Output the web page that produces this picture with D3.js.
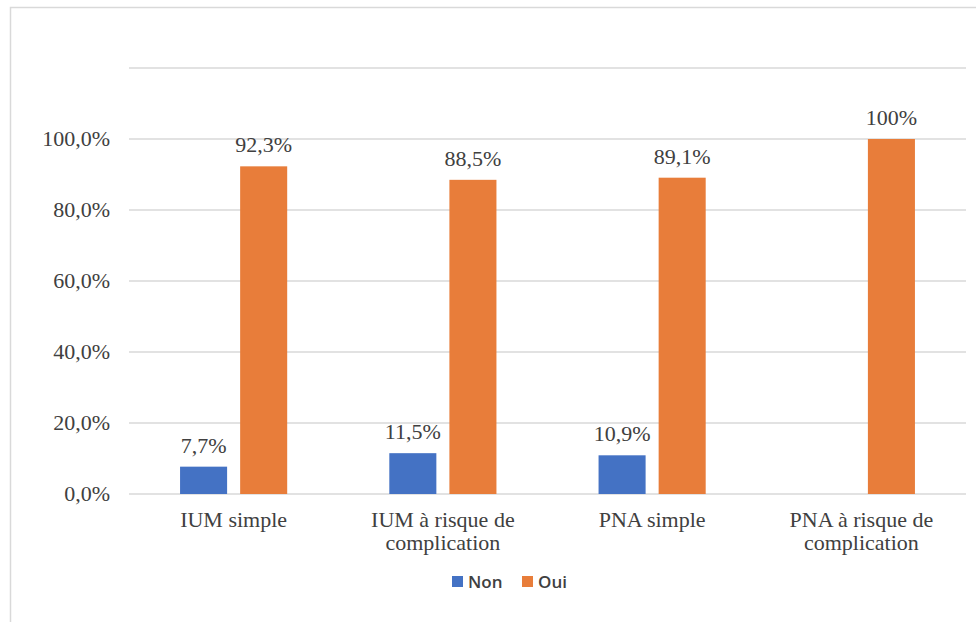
<!DOCTYPE html>
<html>
<head>
<meta charset="utf-8">
<script src="https://cdn.jsdelivr.net/npm/d3@7"></script>
<style>
  html, body { margin: 0; padding: 0; background: #fff; }
  svg { display: block; }
</style>
</head>
<body>
<svg id="chart" width="976" height="622"></svg>
<script>
const categories = [
  ["IUM simple"],
  ["IUM à risque de", "complication"],
  ["PNA simple"],
  ["PNA à risque de", "complication"]
];
const seriesNames = ["Non", "Oui"];
const nonValues = [7.7, 11.5, 10.9, null];
const ouiValues = [92.3, 88.5, 89.1, 100];
const nonLabels = ["7,7%", "11,5%", "10,9%", ""];
const ouiLabels = ["92,3%", "88,5%", "89,1%", "100%"];
const gridTicks = [0, 20, 40, 60, 80, 100, 120];
const tickLabels = ["0,0%", "20,0%", "40,0%", "60,0%", "80,0%", "100,0%"];
const colors = ["#4472C4", "#E87D3A"];

(function () {
const svg = d3.select("#chart");
const textColor = "#404040";
const serif = "'Liberation Serif', 'Times New Roman', serif";
const fs = 22;

// frame
svg.append("path")
  .attr("d", "M10.5,622 L10.5,7.5 L976,7.5")
  .attr("fill", "none").attr("stroke", "#D9D9D9").attr("stroke-width", 1.5);

const plotLeft = 129, plotRight = 966, plotTop = 68, plotBottom = 494;
const y = d3.scaleLinear().domain([0, 120]).range([plotBottom, plotTop]);
const catIdx = categories.map((c, i) => i);
const x0 = d3.scaleBand().domain(catIdx).range([plotLeft, plotRight]).paddingInner(0.488).paddingOuter(0.244);
const x1 = d3.scaleBand().domain(seriesNames).range([0, x0.bandwidth()]).paddingInner(0.217);

// gridlines
svg.append("g").selectAll("line").data(gridTicks).join("line")
  .attr("x1", plotLeft).attr("x2", plotRight)
  .attr("y1", d => y(d)).attr("y2", d => y(d))
  .attr("stroke", "#D9D9D9").attr("stroke-width", 1.5);

// y tick labels
svg.append("g").selectAll("text").data(tickLabels).join("text")
  .attr("x", 110).attr("y", (d, i) => y(gridTicks[i]) + 7)
  .attr("text-anchor", "end")
  .attr("font-family", serif).attr("font-size", fs).attr("fill", textColor)
  .text(d => d);

// bars
const seriesData = [nonValues, ouiValues];
const seriesLabels = [nonLabels, ouiLabels];
seriesNames.forEach((s, si) => {
  const g = svg.append("g");
  const data = catIdx.map(i => ({ i, v: seriesData[si][i], l: seriesLabels[si][i] })).filter(d => d.v != null);
  g.selectAll("rect").data(data).join("rect")
    .attr("x", d => x0(d.i) + x1(s))
    .attr("width", x1.bandwidth())
    .attr("y", d => y(d.v))
    .attr("height", d => y(0) - y(d.v))
    .attr("fill", colors[si]);
  g.selectAll("text").data(data).join("text")
    .attr("x", d => x0(d.i) + x1(s) + x1.bandwidth() / 2)
    .attr("y", d => y(d.v) - 14)
    .attr("text-anchor", "middle")
    .attr("font-family", serif).attr("font-size", fs).attr("fill", textColor)
    .text(d => d.l);
});

// category labels
const cg = svg.append("g");
categories.forEach((lines, i) => {
  const t = cg.append("text")
    .attr("text-anchor", "middle")
    .attr("font-family", serif).attr("font-size", fs).attr("fill", textColor);
  lines.forEach((ln, k) => {
    t.append("tspan").attr("x", x0(i) + x0.bandwidth() / 2).attr("y", 527 + k * 23).text(ln);
  });
});

// legend
const legendPos = [452, 522];
const lg = svg.append("g");
seriesNames.forEach((s, si) => {
  lg.append("rect").attr("x", legendPos[si]).attr("y", 576).attr("width", 11).attr("height", 11).attr("fill", colors[si]);
  lg.append("text").attr("x", legendPos[si] + 16).attr("y", 588)
    .attr("font-family", "'Open Sans', 'Liberation Sans', sans-serif")
    .attr("font-size", 17).attr("font-weight", 600).attr("fill", textColor)
    .text(s);
});
})();
</script>
</body>
</html>
